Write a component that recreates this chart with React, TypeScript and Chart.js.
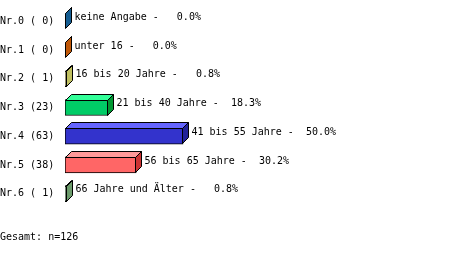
import React, { useEffect, useRef } from "react";
import { Chart, registerables } from "chart.js";

Chart.register(...registerables);

// Age groups, respondent counts and their shares
const groupNames = [
  "keine Angabe",
  "unter 16",
  "16 bis 20 Jahre",
  "21 bis 40 Jahre",
  "41 bis 55 Jahre",
  "56 bis 65 Jahre",
  "66 Jahre und Älter",
];
const counts = [0, 0, 1, 23, 63, 38, 1];
const percents = [0.0, 0.0, 0.8, 18.3, 50.0, 30.2, 0.8];

// Face colours of the extruded bars
const frontColors = ["#2a78b8", "#e07020", "#d8d078", "#00cc66", "#3333cc", "#ff6666", "#88bb88"];
const topColors = ["#4a98d8", "#f09040", "#f0f0a0", "#33ff99", "#6666ff", "#ff9999", "#aaddaa"];
const sideColors = ["#155d92", "#c05808", "#c0c060", "#009933", "#222299", "#cc3333", "#6b9b6b"];

const X_MAX = 200;
const DEPTH = 6;
const FONT = "10px 'DejaVu Sans Mono', monospace";

const rowLabels = counts.map((c, i) => `Nr.${i} (${String(c).padStart(2, " ")})`);
const total = counts.reduce((a, b) => a + b, 0);

const extrudePlugin = {
  id: "extrude",
  afterDatasetsDraw(chart: any) {
    const ctx = chart.ctx;
    const meta = chart.getDatasetMeta(0);
    ctx.save();
    ctx.lineWidth = 1;
    ctx.strokeStyle = "#000";
    ctx.lineJoin = "miter";
    meta.data.forEach((bar: any, i: number) => {
      const { x, y, base, height } = bar.getProps(["x", "y", "base", "height"], true);
      const top = Math.round(y - height / 2) + 0.5;
      const bottom = Math.round(y + height / 2) - 0.5;
      const left = Math.round(base) + 0.5;
      const right = Math.round(x) - 0.5 < left ? left : Math.round(x) - 0.5;
      // top face
      ctx.beginPath();
      ctx.moveTo(left, top);
      ctx.lineTo(right, top);
      ctx.lineTo(right + DEPTH, top - DEPTH);
      ctx.lineTo(left + DEPTH, top - DEPTH);
      ctx.closePath();
      ctx.fillStyle = topColors[i];
      ctx.fill();
      ctx.stroke();
      // side face
      ctx.beginPath();
      ctx.moveTo(right, top);
      ctx.lineTo(right + DEPTH, top - DEPTH);
      ctx.lineTo(right + DEPTH, bottom - DEPTH);
      ctx.lineTo(right, bottom);
      ctx.closePath();
      ctx.fillStyle = sideColors[i];
      ctx.fill();
      ctx.stroke();

      // value label to the right of the bar
      ctx.fillStyle = "#000";
      ctx.font = FONT;
      ctx.textAlign = "left";
      ctx.textBaseline = "middle";
      const pct = `${percents[i].toFixed(1)}%`.padStart(6, " ");
      ctx.fillText(`${groupNames[i]} - ${pct}`, right + DEPTH + 3, y - DEPTH / 2 - 1);
    });

    ctx.fillStyle = "#000";
    ctx.font = FONT;
    ctx.textAlign = "left";
    ctx.textBaseline = "middle";
    ctx.fillText(`Gesamt: n=${total}`, 0, 237);
    ctx.restore();
  },
};

export default function App() {
  const canvasRef = useRef<HTMLCanvasElement | null>(null);

  useEffect(() => {
    const canvas = canvasRef.current;
    if (!canvas) return;
    const chart = new Chart(canvas, {
      type: "bar",
      data: {
        labels: rowLabels,
        datasets: [
          {
            data: counts,
            backgroundColor: frontColors,
            borderColor: "#000",
            borderWidth: 1,
            borderSkipped: false,
            barThickness: 16,
          },
        ],
      },
      options: {
        indexAxis: "y",
        responsive: false,
        animation: false,
        devicePixelRatio: 1,
        layout: { padding: { top: 7, bottom: 45, left: 0, right: 19 } },
        plugins: {
          legend: { display: false },
          tooltip: { enabled: false },
        },
        scales: {
          x: {
            display: false,
            min: 0,
            max: X_MAX,
          },
          y: {
            grid: { display: false },
            border: { display: false },
            afterFit(scale: any) {
              scale.width = 65;
            },
            ticks: {
              crossAlign: "far",
              color: "#000",
              font: { family: "'DejaVu Sans Mono', monospace", size: 10 },
              padding: 0,
            },
          },
        },
      },
      plugins: [extrudePlugin],
    });
    return () => chart.destroy();
  }, []);

  return (
    <div style={{ position: "fixed", left: 0, top: 0, width: 459, height: 253, background: "#fff" }}>
      <canvas ref={canvasRef} width={459} height={253} style={{ display: "block" }} />
    </div>
  );
}
